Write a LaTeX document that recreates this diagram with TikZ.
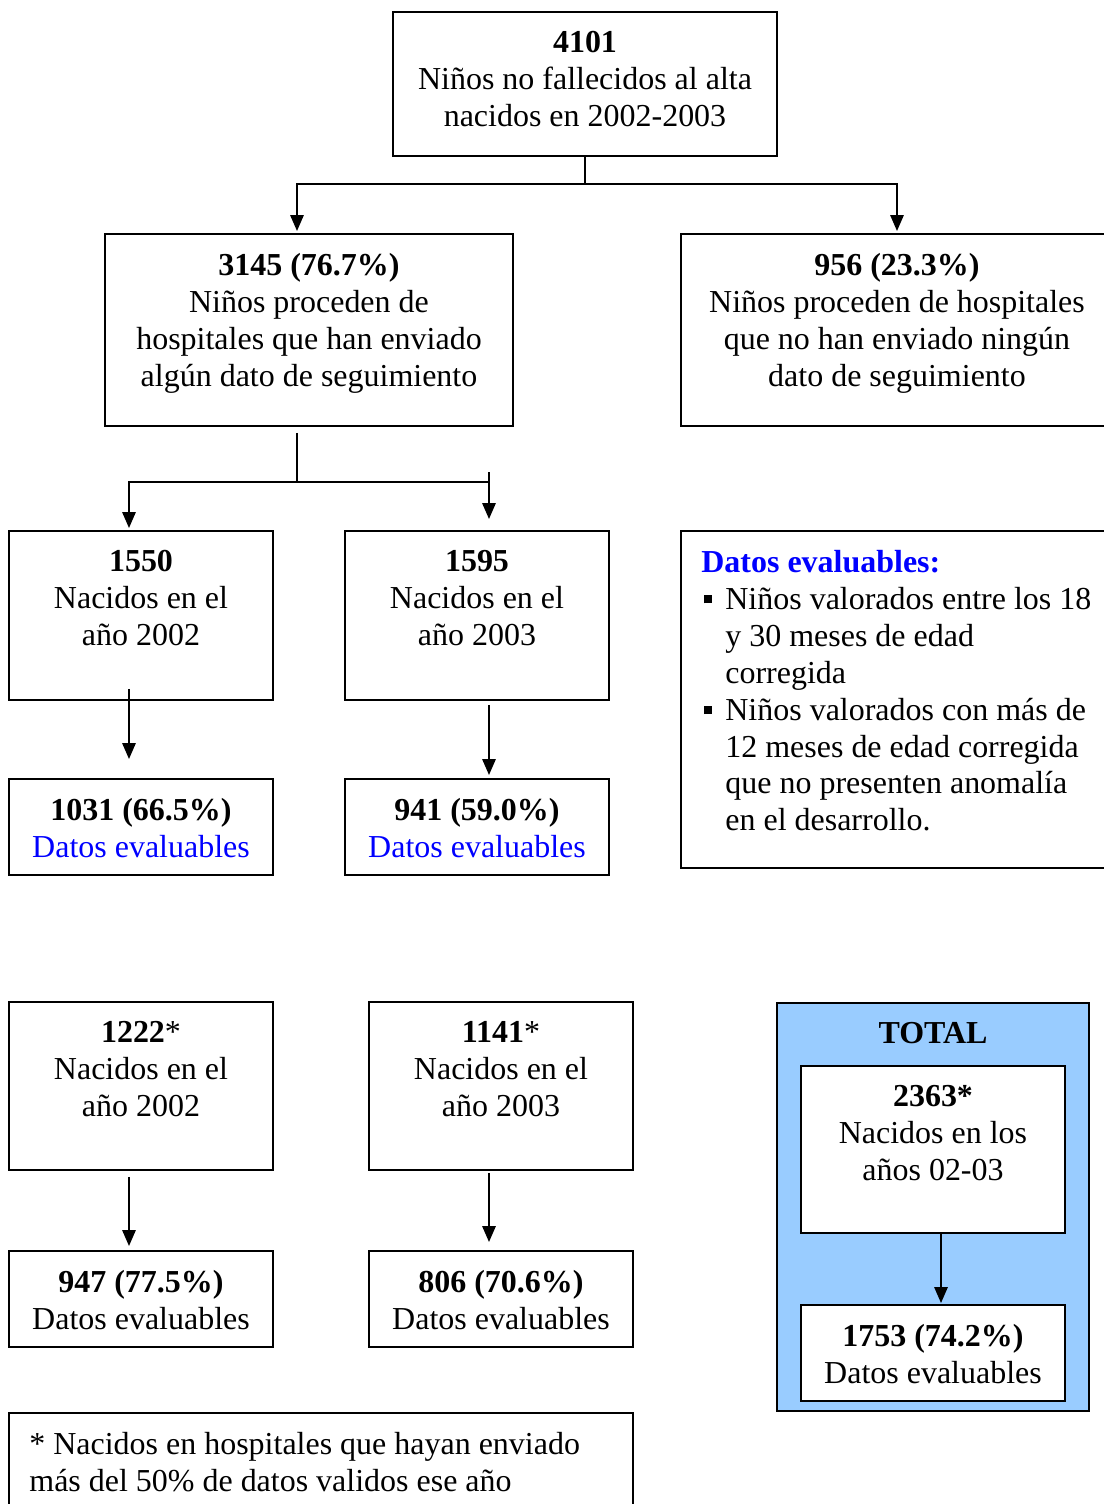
\documentclass[tikz,border=0pt]{standalone}
\usepackage{fontspec}
\setmainfont{Liberation Serif}
\usepackage{tikz}
\usetikzlibrary{arrows.meta,positioning,calc}
\usepackage{xcolor}
\definecolor{totalblue}{RGB}{153,204,255}
\newlength{\pxu}
\setlength{\pxu}{0.02cm}
\newcommand{\bulsq}{\makebox[24\pxu][l]{\hspace*{3\pxu}\rule[6\pxu]{8\pxu}{8\pxu}}}
\newcommand{\bulind}{\hspace*{24\pxu}}

\begin{document}
\begin{tikzpicture}[x=0.02cm, y=-0.02cm,
    box/.style={draw, line width=1.1pt, rectangle, inner sep=0pt},
    txt/.style={anchor=north, inner sep=0pt, align=center, yshift=-20\pxu, font=\fontsize{18.2}{21}\selectfont},
    con/.style={line width=1.1pt},
    arr/.style={line width=1.1pt, -{Triangle[width=7.5pt,length=9pt]}}]
    \useasboundingbox (0,0) rectangle (1103,1504);

    % Top of the tree
    \node[box, minimum width=384\pxu, minimum height=144\pxu] (top) at (585,84) {};
    \node[txt] (top-t) at (top.north) {\textbf{4101}\\Niños no fallecidos al alta\\nacidos en 2002-2003};

    % Hospitals with / without follow-up data
    \node[box, minimum width=408\pxu, minimum height=192\pxu] (con) at (309,330) {};
    \node[txt] (con-t) at (con.north) {\textbf{3145 (76.7\%)}\\Niños proceden de\\hospitales que han enviado\\algún dato de seguimiento};
    \node[box, minimum width=434\pxu, minimum height=192\pxu] (sin) at (898,330) {};
    \node[txt, xshift=-1\pxu] (sin-t) at (sin.north) {\textbf{956 (23.3\%)}\\Niños proceden de hospitales\\que no han enviado ningún\\dato de seguimiento};

    % Born 2002 / 2003
    \node[box, minimum width=264\pxu, minimum height=169\pxu] (a02) at (141,615.5) {};
    \node[txt] (a02-t) at (a02.north) {\textbf{1550}\\Nacidos en el\\año 2002};
    \node[box, minimum width=264\pxu, minimum height=169\pxu] (a03) at (477,615.5) {};
    \node[txt] (a03-t) at (a03.north) {\textbf{1595}\\Nacidos en el\\año 2003};
    \node[box, minimum width=264\pxu, minimum height=96\pxu] (ev02) at (141,827) {};
    \node[txt] (ev02-t) at (ev02.north) {\textbf{1031 (66.5\%)}\\\textcolor{blue}{Datos evaluables}};
    \node[box, minimum width=264\pxu, minimum height=96\pxu] (ev03) at (477,827) {};
    \node[txt] (ev03-t) at (ev03.north) {\textbf{941 (59.0\%)}\\\textcolor{blue}{Datos evaluables}};

    % Definition box
    \node[box, minimum width=434\pxu, minimum height=337\pxu] (def) at (898,699.5) {};
    \node[txt, anchor=north west, align=left, xshift=21\pxu] (def-t) at (def.north west) {\textcolor{blue}{\textbf{Datos evaluables:}}\\
        \bulsq Niños valorados entre los 18\\
        \bulind y 30 meses de edad\\
        \bulind corregida\\
        \bulsq Niños valorados con más de\\
        \bulind 12 meses de edad corregida\\
        \bulind que no presenten anomalía\\
        \bulind en el desarrollo.};

    % Hospitals with more than 50% valid data
    \node[box, minimum width=264\pxu, minimum height=168\pxu] (b02) at (141,1086) {};
    \node[txt] (b02-t) at (b02.north) {\textbf{1222}*\\Nacidos en el\\año 2002};
    \node[box, minimum width=264\pxu, minimum height=168\pxu] (b03) at (501,1086) {};
    \node[txt] (b03-t) at (b03.north) {\textbf{1141}*\\Nacidos en el\\año 2003};
    \node[box, minimum width=264\pxu, minimum height=96\pxu] (v02) at (141,1299) {};
    \node[txt] (v02-t) at (v02.north) {\textbf{947 (77.5\%)}\\Datos evaluables};
    \node[box, minimum width=264\pxu, minimum height=96\pxu] (v03) at (501,1299) {};
    \node[txt] (v03-t) at (v03.north) {\textbf{806 (70.6\%)}\\Datos evaluables};

    % Total panel
    \node[box, fill=totalblue, line width=0.9pt, minimum width=312\pxu, minimum height=408\pxu] (total) at (933,1207) {};
    \node[txt] (total-t) at (total.north) {\textbf{TOTAL}};
    \node[box, fill=white, minimum width=264\pxu, minimum height=167\pxu] (tot) at (933,1149.5) {};
    \node[txt] (tot-t) at (tot.north) {\textbf{2363*}\\Nacidos en los\\años 02-03};
    \node[box, fill=white, minimum width=264\pxu, minimum height=96\pxu] (tev) at (933,1353) {};
    \node[txt] (tev-t) at (tev.north) {\textbf{1753 (74.2\%)}\\Datos evaluables};

    % Footnote
    \node[box, minimum width=624\pxu, minimum height=107\pxu] (note) at (321,1466.5) {};
    \node[txt, anchor=north west, align=left, xshift=21\pxu] (note-t) at (note.north west) {* Nacidos en hospitales que hayan enviado\\más del 50\% de datos validos ese año};

    % Connectors
    \coordinate (j1) at (585,184);
    \draw[con] (top.south) -- (j1);
    \draw[arr] (j1) -| ($(con.north)+(-12,-2)$);
    \draw[arr] (j1) -| ($(sin.north)+(-1,-2)$);

    \coordinate (j2) at (297,482);
    \coordinate (j3) at (489,482);
    \coordinate (j4) at (489,472);
    \draw[con] ($(con.south)+(-12,6)$) -- (j2);
    \draw[arr] (j2) -| ($(a02.north)+(-12,-2)$);
    \draw[con] (j2) -- (j3);
    \draw[arr] (j4) -- ($(a03.north)+(12,-11)$);

    \draw[arr] ($(a02.south)+(-12,-12)$) -- ($(ev02.north)+(-12,-19)$);
    \draw[arr] ($(a03.south)+(12,4)$) -- ($(ev03.north)+(12,-3)$);
    \draw[arr] ($(b02.south)+(-12,6)$) -- ($(v02.north)+(-12,-4)$);
    \draw[arr] ($(b03.south)+(-12,2)$) -- ($(v03.north)+(-12,-8)$);
    \draw[arr] ($(tot.south)+(8,0)$) -- ($(tev.north)+(8,-1)$);
\end{tikzpicture}
\end{document}
